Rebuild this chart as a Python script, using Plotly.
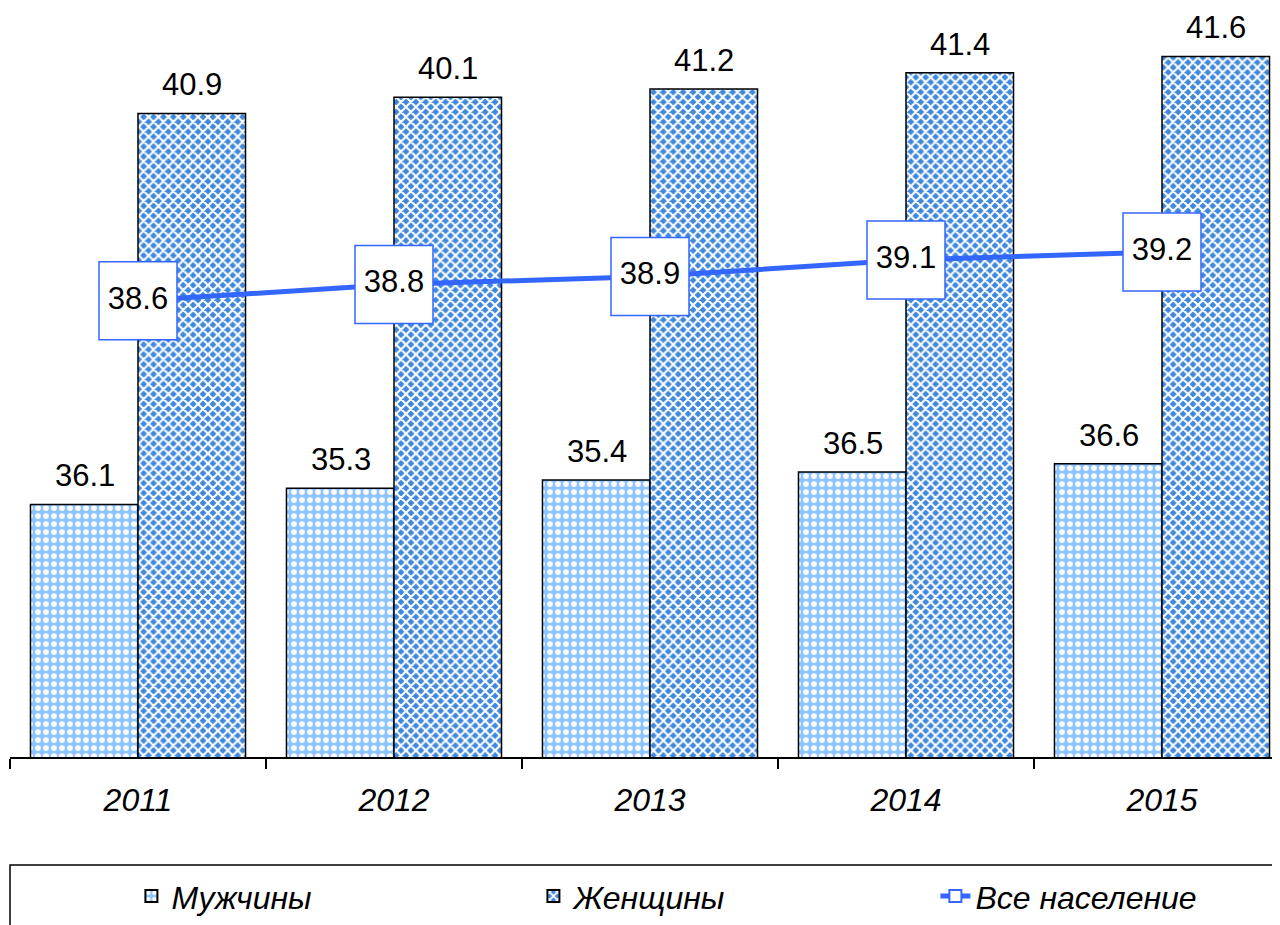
import plotly.graph_objects as go

# Data
years = ["2011", "2012", "2013", "2014", "2015"]
# bar heights as drawn in the picture
men_values = [36.1, 36.3, 36.4, 36.5, 36.6]
women_values = [40.9, 41.1, 41.2, 41.4, 41.6]
# data labels as printed in the picture
men_labels = ["36.1", "35.3", "35.4", "36.5", "36.6"]
women_labels = ["40.9", "40.1", "41.2", "41.4", "41.6"]
total_values = [38.6, 38.8, 38.9, 39.1, 39.2]
total_labels = ["38.6", "38.8", "38.9", "39.1", "39.2"]

series_names = ["Мужчины", "Женщины", "Все население"]

FONT = "Arial, Liberation Sans, sans-serif"
LINE_BLUE = "#3366FF"

# layout geometry (page body adds 8px offset)
FIG_W, FIG_H = 1280, 925
M_L, M_R, M_T = 2, 0, 0
PLOT_BOTTOM = 749          # in figure px
PX_PER_UNIT = 81.46
Y_MIN = 33
CAT_PX = 256
plot_h = PLOT_BOTTOM - M_T
plot_w = FIG_W - M_L - M_R

fig = go.Figure()

fig.add_trace(go.Bar(
    x=years, y=men_values, name=series_names[0],
    marker=dict(
        color="#8cc4ff",
        line=dict(color="black", width=1.5),
        pattern=dict(shape=".", bgcolor="#8cc4ff", fgcolor="white",
                     size=8, solidity=0.4, fillmode="replace"),
    ),
))
fig.add_trace(go.Bar(
    x=years, y=women_values, name=series_names[1],
    marker=dict(
        color="#3f88dd",
        line=dict(color="black", width=1.5),
        pattern=dict(shape="x", bgcolor="#3f88dd", fgcolor="white",
                     size=7, solidity=0.5, fillmode="replace"),
    ),
))
fig.add_trace(go.Scatter(
    x=years, y=total_values, mode="lines+markers+text",
    text=total_labels, textposition="middle center",
    textfont=dict(family=FONT, size=31, color="black"),
    line=dict(color=LINE_BLUE, width=5),
    marker=dict(symbol="square", size=78, color="white",
                line=dict(color=LINE_BLUE, width=1.5)),
    showlegend=False, cliponaxis=False,
))
# legend-only entry for the line
fig.add_trace(go.Scatter(
    x=[None], y=[None], mode="lines+markers", name=series_names[2],
    line=dict(color=LINE_BLUE, width=5),
    marker=dict(symbol="square", size=16, color="white",
                line=dict(color=LINE_BLUE, width=1.5)),
))

annotations = []
for i, (v, t) in enumerate(zip(men_values, men_labels)):
    annotations.append(dict(x=i, y=v, xref="x", yref="y", text=t, showarrow=False,
                            xanchor="center", yanchor="bottom", xshift=-53.5, yshift=9,
                            font=dict(family=FONT, size=31, color="black")))
for i, (v, t) in enumerate(zip(women_values, women_labels)):
    annotations.append(dict(x=i, y=v, xref="x", yref="y", text=t, showarrow=False,
                            xanchor="center", yanchor="bottom", xshift=53.5, yshift=9,
                            font=dict(family=FONT, size=31, color="black")))

legend_top = (plot_h - (865 - 8 - M_T)) / plot_h

fig.update_layout(
    width=FIG_W, height=FIG_H,
    margin=dict(l=M_L, r=M_R, t=M_T, b=FIG_H - PLOT_BOTTOM, autoexpand=False),
    paper_bgcolor="white", plot_bgcolor="white",
    barmode="group", bargap=0.16, bargroupgap=0,
    font=dict(family=FONT, color="black"),
    xaxis=dict(type="category", range=[-0.5, -0.5 + plot_w / CAT_PX], tickson="boundaries",
               ticks="outside", ticklen=10, tickwidth=1.5, tickcolor="black",
               showline=True, linecolor="black", linewidth=1.5,
               showgrid=False, zeroline=False, ticklabelstandoff=14,
               tickfont=dict(family=FONT, size=32, color="black", style="italic")),
    yaxis=dict(visible=False, range=[Y_MIN, Y_MIN + plot_h / PX_PER_UNIT], showgrid=False),
    showlegend=True,
    legend=dict(orientation="h", x=0.095, xanchor="left", y=legend_top - 0.005,
                yanchor="top", bgcolor="rgba(0,0,0,0)", borderwidth=0,
                entrywidth=357, entrywidthmode="pixels", itemsizing="constant",
                font=dict(family=FONT, size=32, color="black", style="italic")),
    annotations=annotations,
    shapes=[dict(type="rect", xref="paper", yref="paper", x0=0, x1=1.02,
                 y0=legend_top, y1=-0.35, line=dict(color="black", width=1.5),
                 fillcolor="rgba(0,0,0,0)", layer="above")],
)

fig.write_html("out.html")
